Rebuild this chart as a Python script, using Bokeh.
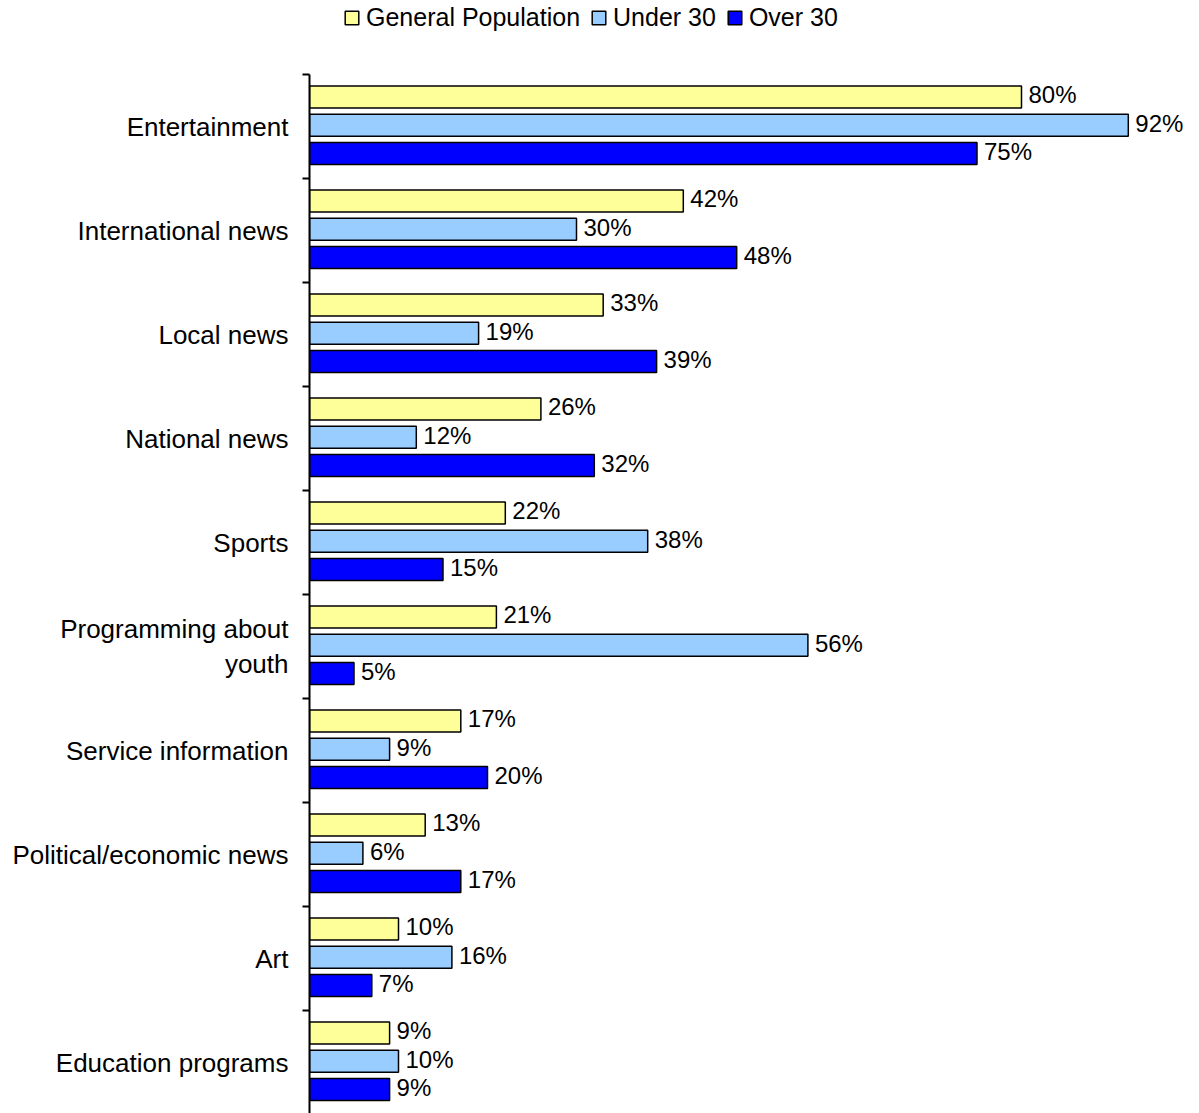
import numpy as np
from bokeh.plotting import figure
from bokeh.models import Range1d, FixedTicker, Legend, LegendItem, ColumnDataSource
from bokeh.core.properties import value
from bokeh.embed import file_html
from bokeh.resources import INLINE

categories = ["Entertainment", "International news", "Local news", "National news", "Sports",
              "Programming about\nyouth", "Service information", "Political/economic news",
              "Art", "Education programs"]
series_names = ["General Population", "Under 30", "Over 30"]
general = [80, 42, 33, 26, 22, 21, 17, 13, 10, 9]
under30 = [92, 30, 19, 12, 38, 56, 9, 6, 16, 10]
over30 = [75, 48, 39, 32, 15, 5, 20, 17, 7, 9]
colors = ["#FFFF99", "#99CCFF", "#0000FF"]

FONT = "Liberation Sans"
n = len(categories)
centers = np.arange(n)

W, H = 1199, 1113
LEFT, TOP = 309, 74
CAT_PX = 104.0

p = figure(width=W, height=H, output_backend="svg", toolbar_location=None,
           x_range=Range1d(0, 100),
           y_range=Range1d(-0.5 + (H - TOP) / CAT_PX, -0.5 - TOP / CAT_PX),
           min_border_left=LEFT, min_border_top=0, min_border_right=0, min_border_bottom=0)

p.xaxis.visible = False
p.xgrid.visible = False
p.ygrid.visible = False
p.outline_line_color = None

offsets = [-0.272, 0.0, 0.272]
bar_h = 0.21
renderers = []
for vals, off, col in zip([general, under30, over30], offsets, colors):
    src = ColumnDataSource(dict(y=centers + off - 0.012, right=vals,
                                label=[f"{v}%" for v in vals]))
    r = p.hbar(y="y", left=0, right="right", height=bar_h, source=src,
               fill_color=col, line_color="black", line_width=1.5)
    renderers.append(r)
    p.text(x="right", y="y", text="label", source=src, x_offset=7, y_offset=-2,
           text_align="left", text_baseline="middle",
           text_font=value(FONT), text_font_size="24px", text_color="black")

ax = p.yaxis[0]
ax.bounds = (-0.5, n)
ax.ticker = FixedTicker(ticks=list(centers), minor_ticks=[i - 0.5 for i in range(n + 1)])
ax.major_label_overrides = {int(i): c for i, c in enumerate(categories)}
ax.major_tick_out = 0
ax.major_tick_in = 0
ax.minor_tick_out = 7
ax.minor_tick_in = 0
ax.minor_tick_line_width = 2
ax.minor_tick_line_color = "black"
ax.axis_line_width = 2
ax.axis_line_color = "black"
ax.major_label_standoff = 14
ax.major_label_text_font = FONT
ax.major_label_text_font_size = "26px"
ax.major_label_text_color = "black"
ax.major_label_text_line_height = 1.15

legend = Legend(items=[LegendItem(label=nm, renderers=[r]) for nm, r in zip(series_names, renderers)],
                orientation="horizontal", location=(34, H - 32),
                glyph_width=17, glyph_height=17, label_standoff=6, spacing=10,
                padding=0, margin=0, border_line_color=None, background_fill_alpha=0,
                label_text_font=FONT, label_text_font_size="25px", label_text_color="black",
                label_height=30)
p.add_layout(legend, "center")

open("out.html", "w").write(file_html(p, INLINE))
